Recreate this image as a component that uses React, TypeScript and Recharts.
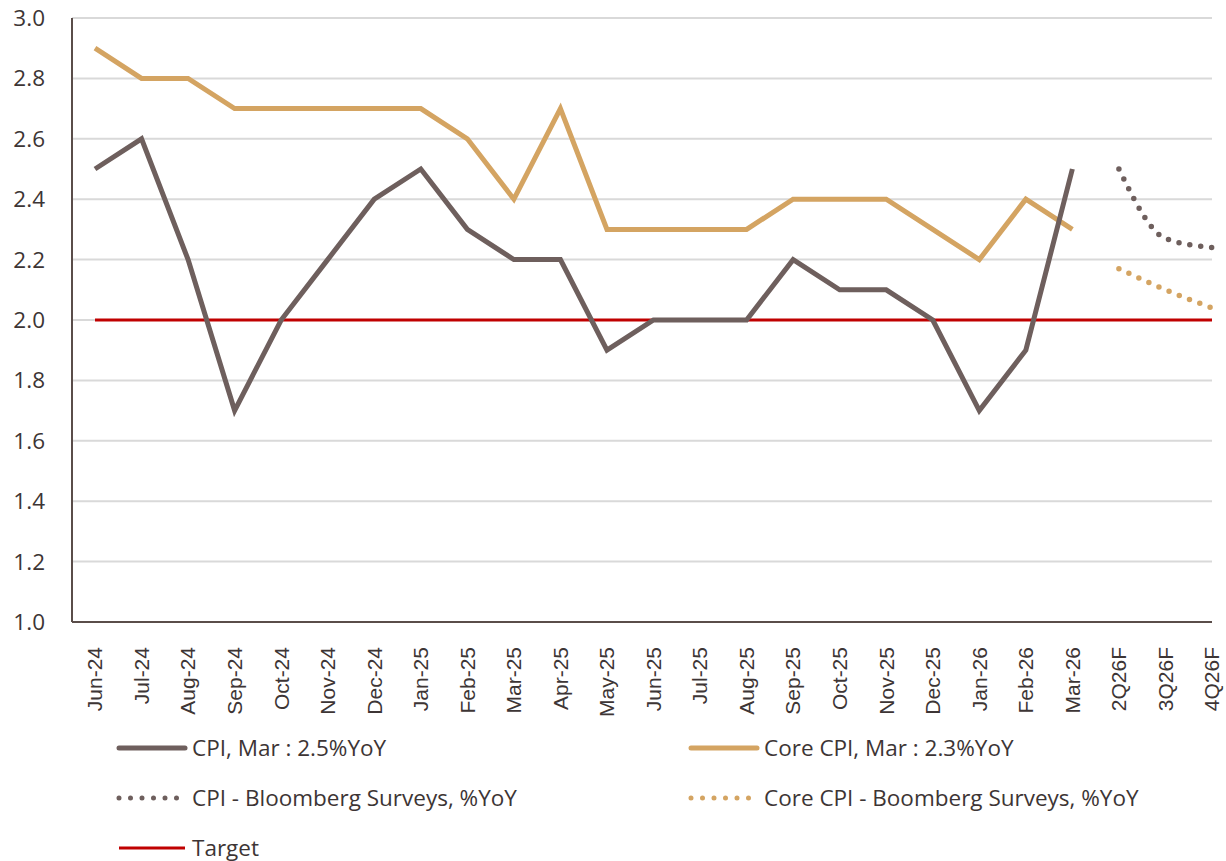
import React from "react"
import {
  LineChart,
  Line,
  XAxis,
  YAxis,
  CartesianGrid,
} from "recharts"

const CATEGORIES = [
  "Jun-24", "Jul-24", "Aug-24", "Sep-24", "Oct-24", "Nov-24", "Dec-24",
  "Jan-25", "Feb-25", "Mar-25", "Apr-25", "May-25", "Jun-25", "Jul-25",
  "Aug-25", "Sep-25", "Oct-25", "Nov-25", "Dec-25", "Jan-26", "Feb-26",
  "Mar-26", "2Q26F", "3Q26F", "4Q26F",
]

const CPI = [
  2.5, 2.6, 2.2, 1.7, 2.0, 2.2, 2.4, 2.5, 2.3, 2.2, 2.2, 1.9, 2.0, 2.0,
  2.0, 2.2, 2.1, 2.1, 2.0, 1.7, 1.9, 2.5, null, null, null,
]

const CORE_CPI = [
  2.9, 2.8, 2.8, 2.7, 2.7, 2.7, 2.7, 2.7, 2.6, 2.4, 2.7, 2.3, 2.3, 2.3,
  2.3, 2.4, 2.4, 2.4, 2.3, 2.2, 2.4, 2.3, null, null, null,
]

const CPI_SURVEY = [2.5, 2.27, 2.24]
const CORE_SURVEY = [2.17, 2.1, 2.04]
const TARGET = 2.0

const Y_TICKS = [1.0, 1.2, 1.4, 1.6, 1.8, 2.0, 2.2, 2.4, 2.6, 2.8, 3.0]

const FC_START = CATEGORIES.length - CPI_SURVEY.length

const data = CATEGORIES.map((name, i) => ({
  name,
  cpi: CPI[i],
  core: CORE_CPI[i],
  cpiSurvey: i >= FC_START ? CPI_SURVEY[i - FC_START] : null,
  coreSurvey: i >= FC_START ? CORE_SURVEY[i - FC_START] : null,
  target: TARGET,
}))

const FONT = "'Open Sans', 'Noto Sans', sans-serif"
const AXIS_FONT = "'Liberation Sans', Arial, sans-serif"
const TEXT = "#3d3535"
const CPI_COLOR = "#6e5f5d"
const CORE_COLOR = "#d4a462"
const RED = "#c00000"

const XTick = (props: any) => {
  const { x, y, payload } = props
  return (
    <text
      x={x}
      y={y}
      transform={`rotate(-90, ${x}, ${y})`}
      textAnchor="end"
      dy="0.35em"
      dx={-17}
      fill={TEXT}
      fontSize={21}
      fontFamily={AXIS_FONT}
    >
      {payload.value}
    </text>
  )
}

const LegendItem = ({ left, top, color, dotted, thin, label }: any) => (
  <div style={{ position: "absolute", left, top, display: "flex", alignItems: "center" }}>
    <svg width={72} height={10} style={{ marginRight: 4 }}>
      {dotted ? (
        <line x1={3} y1={5} x2={70} y2={5} stroke={color} strokeWidth={5}
          strokeLinecap="round" strokeDasharray="0 11.5" />
      ) : (
        <line x1={3} y1={5} x2={69} y2={5} stroke={color} strokeWidth={thin ? 3 : 5}
          strokeLinecap={thin ? "butt" : "round"} />
      )}
    </svg>
    <span style={{ fontFamily: FONT, fontSize: 22.5, color: TEXT, lineHeight: "30px" }}>{label}</span>
  </div>
)

export default function App() {
  return (
    <div style={{ position: "absolute", left: 0, top: 0, width: 1226, height: 861, background: "#fff" }}>
      <LineChart
        width={1226}
        height={720}
        data={data}
        margin={{ top: 18, right: 14, left: 0, bottom: 0 }}
      >
        <CartesianGrid vertical={false} stroke="#d9d9d9" strokeWidth={2} />
        <XAxis
          dataKey="name"
          interval={0}
          height={98}
          padding={{ left: 23, right: 0 }}
          tick={<XTick />}
          tickLine={false}
          axisLine={{ stroke: "#5a4d4a", strokeWidth: 2 }}
        />
        <YAxis
          width={72}
          domain={[1, 3]}
          ticks={Y_TICKS}
          interval={0}
          tickFormatter={(v: number) => v.toFixed(1)}
          tick={{ fill: TEXT, fontSize: 22.5, fontFamily: FONT }}
          tickSize={0}
          tickMargin={27}
          axisLine={{ stroke: "#5a4d4a", strokeWidth: 2 }}
        />
        <Line dataKey="target" stroke={RED} strokeWidth={3} dot={false} isAnimationActive={false} />
        <Line dataKey="core" stroke={CORE_COLOR} strokeWidth={5} dot={false} isAnimationActive={false} />
        <Line dataKey="cpi" stroke={CPI_COLOR} strokeWidth={5} dot={false} isAnimationActive={false} />
        <Line
          type="monotone"
          dataKey="cpiSurvey"
          stroke={CPI_COLOR}
          strokeWidth={5.5}
          strokeLinecap="round"
          strokeDasharray="0 11"
          dot={false}
          isAnimationActive={false}
        />
        <Line
          type="monotone"
          dataKey="coreSurvey"
          stroke={CORE_COLOR}
          strokeWidth={5.5}
          strokeLinecap="round"
          strokeDasharray="0 11"
          dot={false}
          isAnimationActive={false}
        />
      </LineChart>
      <LegendItem left={116} top={733} color={CPI_COLOR} label="CPI, Mar : 2.5%YoY" />
      <LegendItem left={688} top={733} color={CORE_COLOR} label="Core CPI, Mar : 2.3%YoY" />
      <LegendItem left={116} top={783} color={CPI_COLOR} dotted label="CPI - Bloomberg Surveys, %YoY" />
      <LegendItem left={688} top={783} color={CORE_COLOR} dotted label="Core CPI - Boomberg Surveys, %YoY" />
      <LegendItem left={116} top={833} color={RED} thin label="Target" />
    </div>
  )
}
